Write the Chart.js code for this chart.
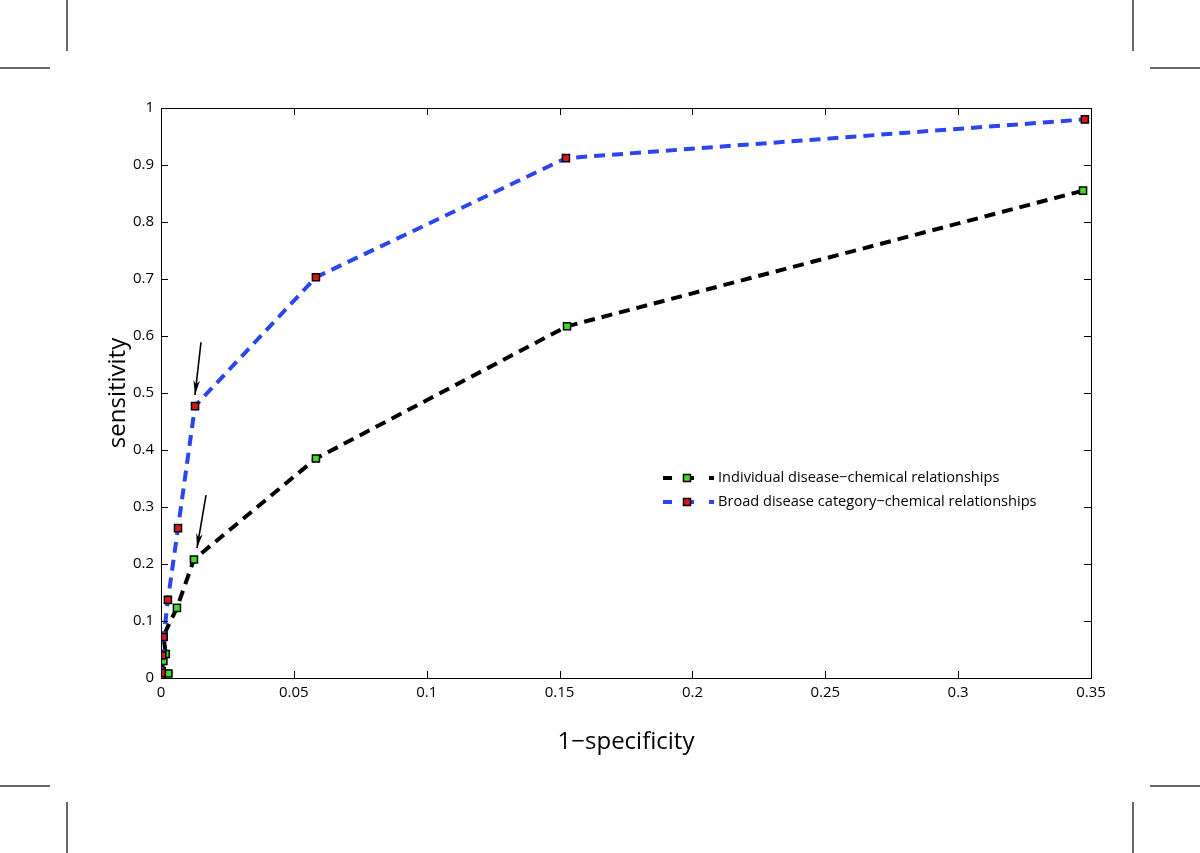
<!DOCTYPE html>
<html>
<head>
<meta charset="utf-8">
<script src="https://cdn.jsdelivr.net/npm/chart.js@4.4.1/dist/chart.umd.min.js"></script>
<style>
  html, body { margin: 0; padding: 0; background: #fff; }
  #wrap { position: relative; width: 1200px; height: 853px; }
  .crop { position: absolute; background: #666; }
</style>
</head>
<body>
<div id="wrap">
  <canvas id="roc" width="1200" height="853"></canvas>
  <div class="crop" style="left:66px;top:0;width:2px;height:51px"></div>
  <div class="crop" style="left:0;top:67px;width:50px;height:2px"></div>
  <div class="crop" style="left:1132px;top:0;width:2px;height:51px"></div>
  <div class="crop" style="left:1150px;top:67px;width:50px;height:2px"></div>
  <div class="crop" style="left:0;top:785px;width:50px;height:2px"></div>
  <div class="crop" style="left:66px;top:802px;width:2px;height:51px"></div>
  <div class="crop" style="left:1150px;top:785px;width:50px;height:2px"></div>
  <div class="crop" style="left:1132px;top:802px;width:2px;height:51px"></div>
</div>
<script>
// --- DATA ---
const seriesNames = ['Individual disease\u2212chemical relationships', 'Broad disease category\u2212chemical relationships'];

const individualX = [0, 0.0028, 0.0003, 0.0009, 0.0018, 0.0009, 0.006, 0.0124, 0.0583, 0.1528, 0.347];
const individualY = [0, 0.008, 0.012, 0.03, 0.042, 0.074, 0.123, 0.208, 0.385, 0.617, 0.855];

const broadX = [0, 0.0003, 0.0005, 0.001, 0.0026, 0.0064, 0.0128, 0.0583, 0.1524, 0.3477];
const broadY = [0, 0.009, 0.04, 0.072, 0.137, 0.263, 0.477, 0.703, 0.912, 0.98];

const xTicks = [0, 0.05, 0.1, 0.15, 0.2, 0.25, 0.3, 0.35];
const yTicks = [0, 0.1, 0.2, 0.3, 0.4, 0.5, 0.6, 0.7, 0.8, 0.9, 1];

// arrows pointing at the chosen operating points (data units)
const arrowTailX = [0.01505, 0.01694];
const arrowTailY = [0.589, 0.321];
const arrowHeadX = [0.0128, 0.01355];
const arrowHeadY = [0.4965, 0.228];

const BLUE = '#2a46ee';
const GREEN = '#3fdc24';
const RED = '#d81818';
const DASH = [11, 7];
const tickFont = { family: "'Liberation Sans Narrow', 'Open Sans', sans-serif", size: 15 };
const titleFont = { family: "'Open Sans', sans-serif", size: 24 };

const toPoints = (xs, ys) => xs.map((x, i) => ({ x: x, y: ys[i] }));
const fmt = v => String(Math.round(v * 100) / 100);

// --- INWARD TICKS + BOX (matlab style) ---
const boxTicks = {
    id: 'boxTicks',
    afterDraw(chart) {
        const { ctx, chartArea: a, scales } = chart;
        const len = 7;
        ctx.save();
        ctx.strokeStyle = '#000';
        ctx.lineWidth = 1;
        ctx.beginPath();
        ctx.rect(a.left + 0.5, a.top + 0.5, a.right - a.left, a.bottom - a.top);
        xTicks.forEach(t => {
            const px = Math.round(scales.x.getPixelForValue(t)) + 0.5;
            ctx.moveTo(px, a.bottom); ctx.lineTo(px, a.bottom - len);
            ctx.moveTo(px, a.top); ctx.lineTo(px, a.top + len);
        });
        yTicks.forEach(t => {
            const py = Math.round(scales.y.getPixelForValue(t)) + 0.5;
            ctx.moveTo(a.left, py); ctx.lineTo(a.left + len, py);
            ctx.moveTo(a.right, py); ctx.lineTo(a.right - len, py);
        });
        ctx.stroke();
        ctx.restore();
    }
};

// --- ARROWS ---
const arrows = {
    id: 'arrows',
    afterDatasetsDraw(chart) {
        const { ctx, scales } = chart;
        ctx.save();
        ctx.strokeStyle = '#000';
        ctx.fillStyle = '#000';
        ctx.lineWidth = 1.6;
        arrowTailX.forEach((tx, i) => {
            const x0 = scales.x.getPixelForValue(tx), y0 = scales.y.getPixelForValue(arrowTailY[i]);
            const x1 = scales.x.getPixelForValue(arrowHeadX[i]), y1 = scales.y.getPixelForValue(arrowHeadY[i]);
            const ang = Math.atan2(y1 - y0, x1 - x0);
            ctx.beginPath();
            ctx.moveTo(x0, y0); ctx.lineTo(x1, y1);
            ctx.stroke();
            const hl = 15, hw = 0.22;
            ctx.beginPath();
            ctx.moveTo(x1, y1);
            ctx.lineTo(x1 - hl * Math.cos(ang - hw), y1 - hl * Math.sin(ang - hw));
            ctx.lineTo(x1 - hl * 0.7 * Math.cos(ang), y1 - hl * 0.7 * Math.sin(ang));
            ctx.lineTo(x1 - hl * Math.cos(ang + hw), y1 - hl * Math.sin(ang + hw));
            ctx.closePath();
            ctx.fill();
        });
        ctx.restore();
    }
};

// --- LEGEND (inside the axes) ---
const boxLegend = {
    id: 'boxLegend',
    afterDraw(chart) {
        const { ctx } = chart;
        const rows = [
            { y: 478, line: '#000', fill: GREEN },
            { y: 502, line: BLUE, fill: RED }
        ];
        ctx.save();
        rows.forEach((r, i) => {
            ctx.strokeStyle = r.line;
            ctx.lineWidth = 4;
            ctx.beginPath();
            ctx.moveTo(663, r.y); ctx.lineTo(672, r.y);
            ctx.moveTo(683, r.y); ctx.lineTo(694, r.y);
            ctx.moveTo(709, r.y); ctx.lineTo(714, r.y);
            ctx.stroke();
            ctx.fillStyle = r.fill;
            ctx.strokeStyle = '#000';
            ctx.lineWidth = 1.5;
            ctx.fillRect(683.5, r.y - 3.5, 7, 7);
            ctx.strokeRect(683.5, r.y - 3.5, 7, 7);
            ctx.fillStyle = '#000';
            ctx.font = "14.6px 'Open Sans', sans-serif";
            ctx.textBaseline = 'middle';
            ctx.fillText(seriesNames[i], 718, r.y);
        });
        ctx.restore();
    }
};

new Chart(document.getElementById('roc'), {
    type: 'scatter',
    data: {
        datasets: [
            {
                label: seriesNames[1],
                data: toPoints(broadX, broadY),
                showLine: true,
                borderColor: BLUE,
                borderWidth: 4,
                borderDash: DASH,
                pointStyle: 'rect',
                pointRadius: 5,
                pointBorderWidth: 1.5,
                pointBorderColor: '#000',
                pointBackgroundColor: RED
            },
            {
                label: seriesNames[0],
                data: toPoints(individualX, individualY),
                showLine: true,
                borderColor: '#000',
                borderWidth: 4,
                borderDash: DASH,
                pointStyle: 'rect',
                pointRadius: 5,
                pointBorderWidth: 1.5,
                pointBorderColor: '#000',
                pointBackgroundColor: GREEN
            }
        ]
    },
    options: {
        responsive: false,
        animation: false,
        layout: { padding: { top: 108, right: 109, left: 0, bottom: 0 } },
        plugins: { legend: { display: false }, tooltip: { enabled: false } },
        scales: {
            x: {
                type: 'linear',
                min: 0,
                max: 0.35,
                afterFit: s => { s.height = 175; },
                afterBuildTicks: s => { s.ticks = xTicks.map(v => ({ value: v })); },
                grid: { display: false, drawTicks: false },
                border: { display: true, color: '#000', width: 1 },
                ticks: { color: '#000', font: tickFont, padding: 6, maxRotation: 0, callback: fmt },
                title: { display: true, text: '1\u2212specificity', color: '#000', font: titleFont, padding: { top: 0, bottom: 96 } }
            },
            y: {
                type: 'linear',
                min: 0,
                max: 1,
                afterFit: s => { s.width = 161; },
                afterBuildTicks: s => { s.ticks = yTicks.map(v => ({ value: v })); },
                grid: { display: false, drawTicks: false },
                border: { display: true, color: '#000', width: 1 },
                ticks: { color: '#000', font: tickFont, padding: 7, callback: fmt },
                title: { display: true, text: 'sensitivity', color: '#000', font: titleFont, padding: { top: 104, bottom: 0 } }
            }
        }
    },
    plugins: [boxTicks, arrows, boxLegend]
});
</script>
</body>
</html>
